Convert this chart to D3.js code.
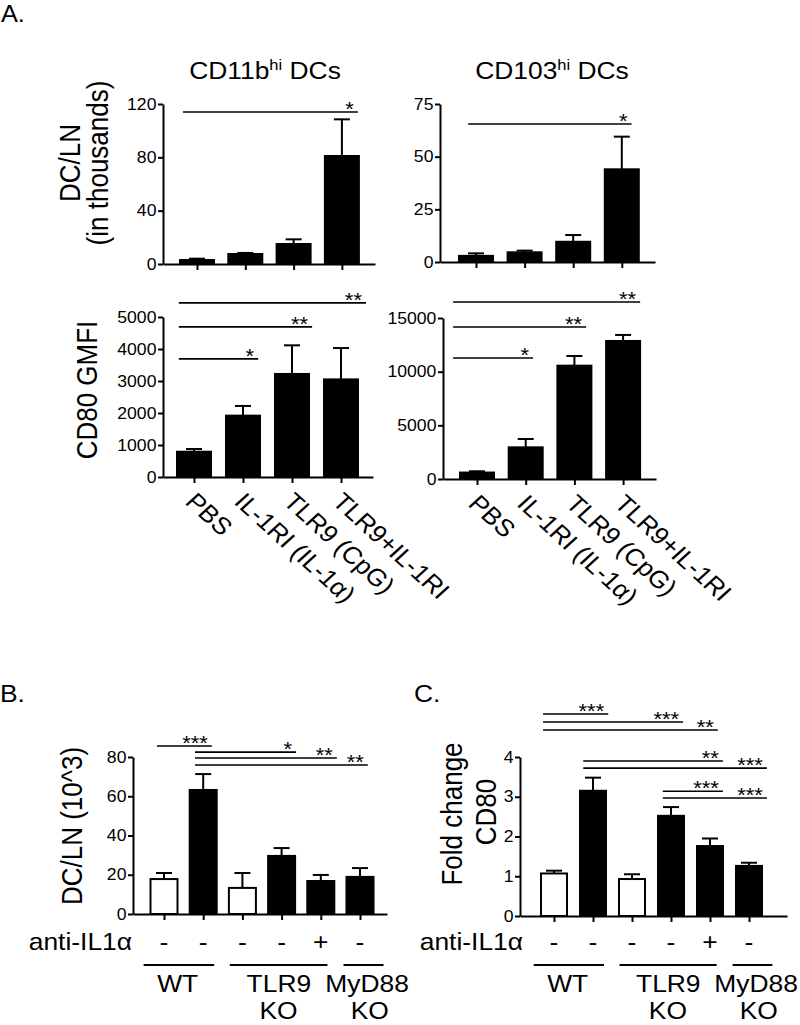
<!DOCTYPE html>
<html>
<head>
<meta charset="utf-8">
<script src="https://cdn.jsdelivr.net/npm/d3@7"></script>
<style>
  body { margin: 0; background: #fff; }
  text { font-family: "Liberation Sans", Arial, sans-serif; fill: #000; }
</style>
</head>
<body>
<script>
// ---- data ----
const treatments = ["PBS", "IL-1RI (IL-1\u03b1)", "TLR9 (CpG)", "TLR9+IL-1RI"];

const cd11bCount = [3, 7.5, 15, 81];
const cd11bCountErr = [4, 8.3, 18.5, 108.5];
const cd103Count = [2.9, 4.6, 9.6, 44];
const cd103CountErr = [4.1, 5.4, 12.8, 59.5];

const cd11bGmfi = [790, 1917, 3220, 3050];
const cd11bGmfiErr = [875, 2220, 4115, 4030];
const cd103Gmfi = [600, 2950, 10560, 12860];
const cd103GmfiErr = [720, 3725, 11460, 13420];

const dcCount = [17.8, 63.2, 13.3, 29.6, 16.8, 18.9];
const dcCountErr = [20.9, 71.3, 20.9, 33.6, 19.9, 23.4];
const foldCD80 = [1.07, 3.15, 0.93, 2.52, 1.76, 1.26];
const foldCD80Err = [1.14, 3.48, 1.05, 2.74, 1.95, 1.34];
const openBar = [true, false, true, false, false, false];
const antiIL1a = ["-", "-", "-", "-", "+", "-"];

const groups = [
  { from: -0.52, to: 1.28, lines: [["WT", 0.35]] },
  { from: 1.68, to: 4.17, lines: [["TLR9", 2.93], ["KO", 2.92]] },
  { from: 4.58, to: 5.6, lines: [["MyD88", 5.18], ["KO", 5.25]] }
];

// brackets: from/to in bar index units, level in data units
const tlBrackets = [{ from: -0.29, to: 3.33, level: 114, label: "*" }];
const trBrackets = [{ from: -0.16, to: 3.2, level: 65.5, label: "*" }];
const blBrackets = [
  { from: -0.31, to: 1.31, level: 3690, label: "*" },
  { from: -0.31, to: 2.41, level: 4690, label: "**" },
  { from: -0.31, to: 3.51, level: 5440, label: "**" }
];
const brBrackets = [
  { from: -0.49, to: 1.15, level: 11270, label: "*" },
  { from: -0.49, to: 2.24, level: 14160, label: "**" },
  { from: -0.49, to: 3.35, level: 16490, label: "**" }
];
const bBrackets = [
  { from: -0.18, to: 1.22, level: 85.6, label: "***" },
  { from: 0.79, to: 3.37, level: 82.5, label: "*" },
  { from: 0.79, to: 4.41, level: 79.5, label: "**" },
  { from: 0.79, to: 5.2, level: 75.9, label: "**" }
];
const cBrackets = [
  { from: -0.28, to: 1.39, level: 5.08, label: "***" },
  { from: -0.28, to: 3.31, level: 4.88, label: "***" },
  { from: -0.28, to: 4.2, level: 4.68, label: "**" },
  { from: 0.75, to: 4.33, level: 3.9, label: "**" },
  { from: 0.75, to: 5.46, level: 3.72, label: "***" },
  { from: 2.79, to: 4.33, level: 3.14, label: "***" },
  { from: 2.79, to: 5.46, level: 2.97, label: "***" }
];

// ---- drawing ----
const SX = 1.1; // the reference text is a little wide
const svg = d3.select("body").append("svg")
  .attr("width", 800)
  .attr("height", 1025);

function put(g, x, y, str, size, anchor, rot) {
  return g.append("text")
    .attr("transform", `translate(${x},${y}) scale(${SX},1)` + (rot ? ` rotate(${rot})` : ""))
    .attr("text-anchor", anchor || "start")
    .attr("font-size", size)
    .text(str);
}

function drawPanel(p) {
  const g = svg.append("g");
  const n = p.values.length;
  const toIdx = px => (px - p.c0) / p.step;
  const x = d3.scaleLinear().domain([toIdx(p.ax), toIdx(p.xEnd)]).range([p.ax, p.xEnd]);
  const y = d3.scaleLinear().domain([0, p.max]).range([p.y0, p.yTop]);

  // bars
  g.selectAll(".bar")
    .data(p.values)
    .enter()
    .append("rect")
    .attr("class", "bar")
    .attr("x", (d, i) => x(i) - p.barW / 2)
    .attr("y", d => y(d))
    .attr("width", p.barW)
    .attr("height", d => p.y0 - y(d))
    .attr("fill", (d, i) => p.open && p.open[i] ? "#fff" : "#000")
    .attr("stroke", "#000")
    .attr("stroke-width", 2);

  // error bars (upper only)
  p.errs.forEach((e, i) => {
    g.append("line").attr("x1", x(i)).attr("x2", x(i))
      .attr("y1", y(p.values[i])).attr("y2", y(e))
      .attr("stroke", "#000").attr("stroke-width", 2);
    g.append("line").attr("x1", x(i) - 8).attr("x2", x(i) + 8)
      .attr("y1", y(e)).attr("y2", y(e))
      .attr("stroke", "#000").attr("stroke-width", 2);
  });

  // axes
  const yAxis = g.append("g")
    .attr("transform", `translate(${p.ax},0)`)
    .call(d3.axisLeft(y).tickValues(p.ticks).tickSize(5).tickSizeOuter(0)
      .tickPadding(1).tickFormat(d3.format("d")));
  yAxis.selectAll("text")
    .attr("font-size", 16)
    .attr("font-family", "Liberation Sans, Arial, sans-serif")
    .attr("fill", "#000")
    .attr("transform", `scale(${SX},1)`);

  const xAxis = g.append("g")
    .attr("transform", `translate(0,${p.y0})`)
    .call(d3.axisBottom(x).tickValues(d3.range(n)).tickSize(6).tickSizeOuter(0).tickFormat(""));

  [yAxis, xAxis].forEach(a => {
    a.select(".domain").attr("stroke-width", 2);
    a.selectAll(".tick line").attr("stroke-width", 2);
  });

  // significance brackets
  p.brackets.forEach(b => {
    const ly = y(b.level);
    g.append("line").attr("x1", x(b.from)).attr("x2", x(b.to))
      .attr("y1", ly).attr("y2", ly)
      .attr("stroke", "#000").attr("stroke-width", 1.6);
    put(g, x(b.to) - 4, ly + 4, b.label, 20, "end");
  });

  // rotated category labels
  if (p.labels) {
    p.labels.forEach((s, i) => put(g, x(i) - 10, p.y0 + 26, s, 24, "start", 45));
  }
  return { g, x, y };
}

// A.
put(svg, 1, 22, "A.", 23);

drawPanel({ values: cd11bCount, errs: cd11bCountErr, max: 120, ticks: [0, 40, 80, 120],
  ax: 163, xEnd: 375, y0: 264, yTop: 104, c0: 197, step: 48.3, barW: 34, brackets: tlBrackets });
drawPanel({ values: cd103Count, errs: cd103CountErr, max: 75, ticks: [0, 25, 50, 75],
  ax: 440, xEnd: 655, y0: 262, yTop: 104, c0: 476, step: 48.6, barW: 34, brackets: trBrackets });
drawPanel({ values: cd11bGmfi, errs: cd11bGmfiErr, max: 5000, ticks: [0, 1000, 2000, 3000, 4000, 5000],
  ax: 163, xEnd: 373, y0: 477, yTop: 317, c0: 194, step: 49, barW: 34, brackets: blBrackets, labels: treatments });
drawPanel({ values: cd103Gmfi, errs: cd103GmfiErr, max: 15000, ticks: [0, 5000, 10000, 15000],
  ax: 443, xEnd: 656, y0: 479, yTop: 318, c0: 477, step: 48.7, barW: 34, brackets: brBrackets, labels: treatments });

// titles
[["CD11b", 265], ["CD103", 552]].forEach(([name, cx]) => {
  const t = svg.append("text")
    .attr("transform", `translate(${cx},79) scale(${SX},1)`)
    .attr("text-anchor", "middle")
    .attr("font-size", 24);
  t.append("tspan").text(name);
  t.append("tspan").attr("font-size", 15).attr("dy", -9).text("hi");
  t.append("tspan").attr("dy", 9).text(" DCs");
});

// y labels panel A
put(svg, 80, 163, "DC/LN", 26, "middle", -90);
put(svg, 108, 163, "(in thousands)", 26, "middle", -90);
put(svg, 97, 390, "CD80 GMFI", 26, "middle", -90);

// B. and C.
put(svg, 0, 702, "B.", 24);
put(svg, 414, 702, "C.", 24);

function drawGenotypes(panel, labelX) {
  const g = panel.g, x = panel.x;
  put(g, labelX, 950, "anti-IL1\u03b1", 24, "end");
  antiIL1a.forEach((s, i) => put(g, x(i), 950, s, 24, "middle"));
  groups.forEach(gr => {
    g.append("line").attr("x1", x(gr.from)).attr("x2", x(gr.to))
      .attr("y1", 965).attr("y2", 965)
      .attr("stroke", "#000").attr("stroke-width", 2);
    gr.lines.forEach(([s, c], k) => put(g, x(c), 992 + k * 27, s, 24, "middle"));
  });
}

const pb = drawPanel({ values: dcCount, errs: dcCountErr, open: openBar, max: 80, ticks: [0, 20, 40, 60, 80],
  ax: 133, xEnd: 387, y0: 914, yTop: 757, c0: 164, step: 39.2, barW: 27, brackets: bBrackets });
drawGenotypes(pb, 132);
put(svg, 82, 826, "DC/LN (10^3)", 26, "middle", -90);

const pc = drawPanel({ values: foldCD80, errs: foldCD80Err, open: openBar, max: 4, ticks: [0, 1, 2, 3, 4],
  ax: 520, xEnd: 787, y0: 916, yTop: 757, c0: 554, step: 39, barW: 26, brackets: cBrackets });
drawGenotypes(pc, 523);
put(svg, 462, 814, "Fold change", 26, "middle", -90);
put(svg, 496, 812, "CD80", 26, "middle", -90);
</script>
</body>
</html>
